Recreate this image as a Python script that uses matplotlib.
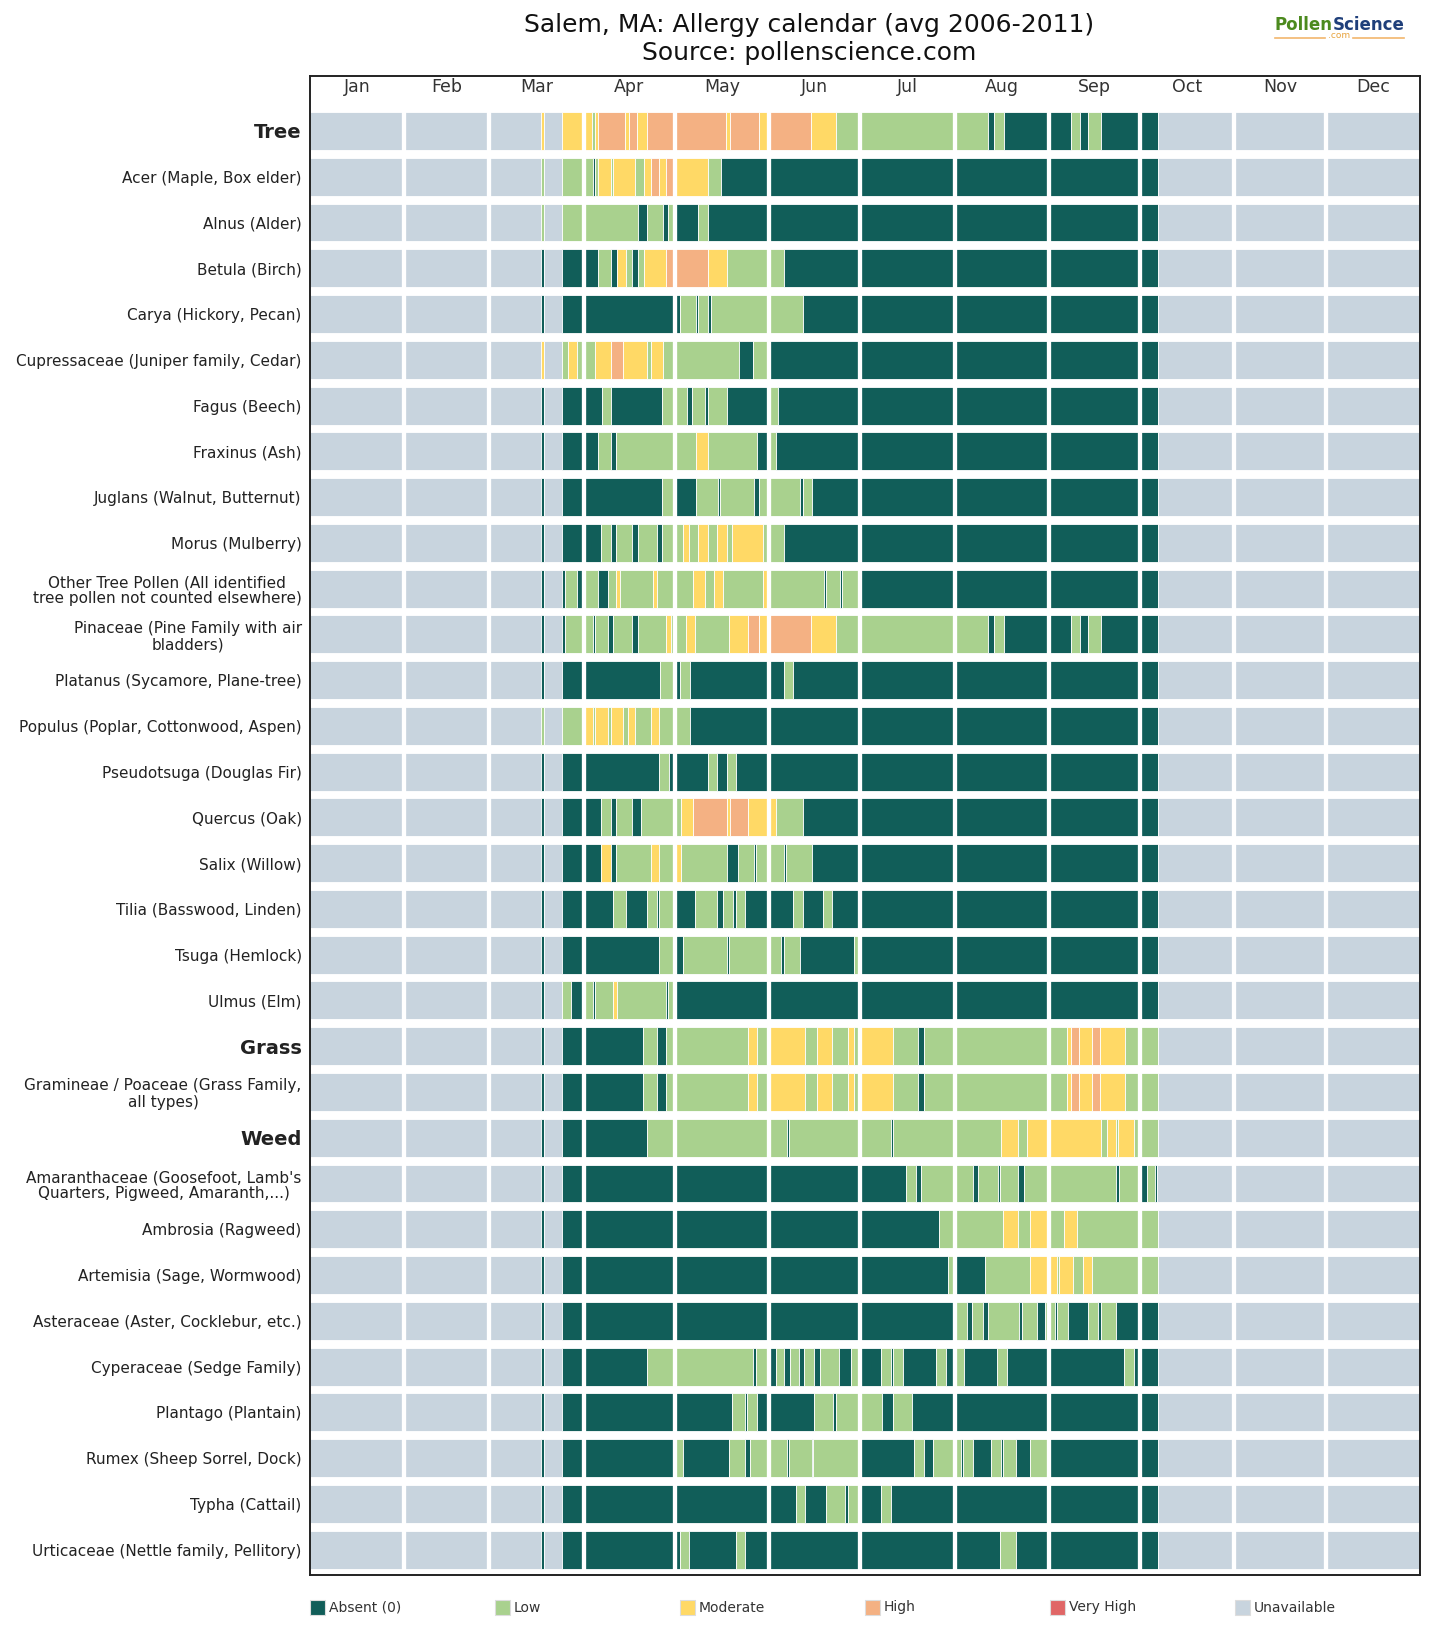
import matplotlib
matplotlib.use("Agg")
import matplotlib.pyplot as plt
from matplotlib.patches import Rectangle
from matplotlib.lines import Line2D
import numpy as np

# ---------------- data ----------------
month_names = ["Jan", "Feb", "Mar", "Apr", "May", "Jun",
               "Jul", "Aug", "Sep", "Oct", "Nov", "Dec"]
month_days = [31, 28, 31, 30, 31, 30, 31, 31, 30, 31, 30, 31]

level_codes = ["A", "L", "M", "H", "V", "U"]
level_names = ["Absent (0)", "Low", "Moderate", "High", "Very High", "Unavailable"]
level_colors = ["#115E59", "#A9D18E", "#FFD966", "#F4B183", "#E06666", "#C8D4DE"]

row_labels = [
    "Tree",
    "Acer (Maple, Box elder)",
    "Alnus (Alder)",
    "Betula (Birch)",
    "Carya (Hickory, Pecan)",
    "Cupressaceae (Juniper family, Cedar)",
    "Fagus (Beech)",
    "Fraxinus (Ash)",
    "Juglans (Walnut, Butternut)",
    "Morus (Mulberry)",
    "Other Tree Pollen (All identified\ntree pollen not counted elsewhere)",
    "Pinaceae (Pine Family with air\nbladders)",
    "Platanus (Sycamore, Plane-tree)",
    "Populus (Poplar, Cottonwood, Aspen)",
    "Pseudotsuga (Douglas Fir)",
    "Quercus (Oak)",
    "Salix (Willow)",
    "Tilia (Basswood, Linden)",
    "Tsuga (Hemlock)",
    "Ulmus (Elm)",
    "Grass",
    "Gramineae / Poaceae (Grass Family,\nall types)",
    "Weed",
    "Amaranthaceae (Goosefoot, Lamb's\nQuarters, Pigweed, Amaranth,...)",
    "Ambrosia (Ragweed)",
    "Artemisia (Sage, Wormwood)",
    "Asteraceae (Aster, Cocklebur, etc.)",
    "Cyperaceae (Sedge Family)",
    "Plantago (Plantain)",
    "Rumex (Sheep Sorrel, Dock)",
    "Typha (Cattail)",
    "Urticaceae (Nettle family, Pellitory)",
]
category_rows = ["Tree", "Grass", "Weed"]

# segment start days (day of year, 0 = Jan 1) and level code of each segment
starts_tree = [0, 75.9, 76.8, 83, 92.84, 93.72, 94.81, 103.58, 104.9, 107.64, 110.93, 136.8, 138.1,
               147.76, 151, 164.7, 172.97, 223.06, 224.9, 228.2, 250.13, 253.2, 255.94, 260.11, 279]
levels_tree = "UMUMLMHMHMHMHMHMLALALALAU"

starts_acer = [0, 75.9, 76.8, 83, 92.95, 93.72, 94.81, 98.87, 99.74, 106.87, 109.83, 112.02,
               114.87, 117.06, 120, 131.0, 135.04, 279]
levels_acer = "ULULALMLMLMHMHMLAU"

starts_alnus = [0, 75.9, 76.8, 83, 107.97, 110.71, 115.97, 117.83, 120, 127.7, 131.0, 279]
levels_alnus = "ULULALALALAU"

starts_betula = [0, 75.9, 76.8, 83, 94.81, 98.87, 100.84, 103.91, 106.0, 107.75, 109.83, 117.06,
                 130.77, 137.01, 155.98, 279]
levels_betula = "UAUALAMLALMHMLAU"

starts_carya = [0, 75.9, 76.8, 83, 121.67, 126.93, 127.7, 130.77, 131.86, 162.0, 279]
levels_carya = "UAUALALALAU"

starts_cupress = [0, 75.9, 76.8, 83, 84.73, 87.8, 93.72, 98.87, 102.81, 110.93, 112.02, 115.97,
                  140.96, 145.78, 151, 279]
levels_cupress = "UMULMLMHMLMLALAU"

starts_fagus = [0, 75.9, 76.8, 83, 95.91, 98.87, 115.86, 123.86, 125.72, 129.89, 131.0, 137.01,
                151, 153.79, 279]
levels_fagus = "UAUALALALALALAU"

starts_fraxinus = [0, 75.9, 76.8, 83, 94.81, 98.87, 100.62, 126.93, 130.77, 146.88, 151, 153.12, 279]
levels_fraxinus = "UAUALALMLALAU"

starts_juglans = [0, 75.9, 76.8, 83, 115.86, 120, 126.93, 134.05, 134.82, 146.0, 147.76, 161.13,
                  162.0, 164.96, 279]
levels_juglans = "UAUALALALALALAU"

starts_morus = [0, 75.9, 76.8, 83, 95.69, 98.87, 100.62, 106.0, 107.75, 114.0, 115.86, 122.76,
                124.74, 127.7, 130.77, 133.94, 137.01, 138.88, 148.85, 155.98, 279]
levels_morus = "UAUALALALALMLMLMLMLAU"

starts_other = [0, 75.9, 76.8, 83, 83.85, 87.91, 90, 94.81, 97.88, 100.62, 101.94, 112.9, 114.0,
                126.05, 129.89, 132.96, 135.92, 148.85, 151, 168.9, 169.6, 174.2, 174.9, 181, 279]
levels_other = "UAUALALALMLMLMLMLMLALALAU"

starts_pinaceae = [0, 75.9, 76.8, 83, 83.85, 92.95, 93.72, 97.88, 99.74, 106.0, 107.75, 116.95,
                   118.7, 123.64, 126.6, 137.9, 143.92, 147.76, 151, 164.74, 172.97, 223.06, 224.9,
                   228.2, 250.13, 253.2, 255.94, 260.11, 279]
levels_pinaceae = "UAUALALALALMLMLMHMHMLALALALAU"

starts_platanus = [0, 75.9, 76.8, 83, 115.09, 120, 121.67, 124.96, 155.98, 158.93, 279]
levels_platanus = "UAUALALALAU"

starts_populus = [0, 75.9, 76.8, 83, 90, 92.95, 93.72, 97.88, 98.87, 102.81, 104.68, 106.87,
                  112.02, 114.87, 124.96, 279]
levels_populus = "ULULMLMLMLMLMLAU"

starts_pseudotsuga = [0, 75.9, 76.8, 83, 114.87, 118.05, 130.77, 133.94, 137.01, 139.97, 279]
levels_pseudotsuga = "UAUALALALAU"

starts_quercus = [0, 75.9, 76.8, 83, 95.69, 98.87, 100.62, 106.0, 108.84, 121.89, 125.83, 137.01,
                  138.1, 143.92, 153.12, 162.0, 279]
levels_quercus = "UAUALALALMHMHMLAU"

starts_salix = [0, 75.9, 76.8, 83, 95.69, 98.87, 100.62, 112.02, 114.87, 120, 121.89, 137.01,
                140.85, 146.0, 146.66, 155.98, 156.64, 164.96, 279]
levels_salix = "UAUAMALMLMLALALALAU"

starts_tilia = [0, 75.9, 76.8, 83, 99.74, 103.91, 110.71, 114.0, 114.76, 120, 126.6, 133.94,
                135.92, 139.0, 139.97, 143.04, 158.93, 162.0, 168.8, 171.76, 279]
levels_tilia = "UAUALALALALALALALALAU"

starts_tsuga = [0, 75.9, 76.8, 83, 114.87, 120, 122.76, 137.01, 137.9, 154.88, 155.76, 161.13,
                178.78, 181, 279]
levels_tsuga = "UAUALALALALALAU"

starts_ulmus = [0, 75.9, 76.8, 83, 85.71, 90, 92.95, 93.72, 99.74, 100.84, 117.06, 117.83, 120, 279]
levels_ulmus = "UAULALALMLALAU"

starts_grass = [0, 75.9, 76.8, 83, 109.61, 114.0, 116.95, 143.92, 146.88, 151, 162.77, 166.83,
                171.76, 176.8, 179.0, 181, 191.82, 200.04, 201.8, 249.04, 250.13, 252.98, 257.04,
                259.89, 268.0, 279]
levels_grass = "UAUALALMLMLMLMLMLALMHMHMLU"

starts_gramineae = [0, 75.9, 76.8, 83, 109.61, 114.0, 116.95, 143.92, 146.88, 151, 162.77, 166.83,
                    171.76, 176.8, 179.0, 181, 191.82, 200.04, 201.8, 249.04, 250.13, 252.98, 257.04,
                    259.89, 268.0, 279]
levels_gramineae = "UAUALALMLMLMLMLMLALMHMHMLU"

starts_weed = [0, 75.9, 76.8, 83, 110.71, 156.75, 157.63, 190.94, 191.82, 227.12, 232.93, 235.88,
               260.11, 262.19, 265.04, 265.6, 271.07, 279]
levels_weed = "UAUALALALMLMLMLMLU"

starts_amaranth = [0, 75.9, 76.8, 83, 195.88, 199.17, 200.92, 218.13, 219.77, 226.13, 226.9,
                   232.93, 234.9, 265.04, 266.03, 273, 275.13, 277.87, 278.6]
levels_amaranth = "UAUALALALALALALALAU"

starts_ambrosia = [0, 75.9, 76.8, 83, 206.95, 228.0, 232.93, 236.76, 243, 248.05, 252.11, 279]
levels_ambrosia = "UAUALMLMLMLU"

starts_artemisia = [0, 75.9, 76.8, 83, 209.9, 212, 221.96, 236.76, 245.75, 246.4, 250.8, 254.08,
                    257.04, 279]
levels_artemisia = "UAUALALMLMLMLU"

starts_asteraceae = [0, 75.9, 76.8, 83, 212, 216.15, 217.8, 221.2, 222.84, 233.25, 234.02, 239.17,
                     241.7, 245.0, 245.75, 249.15, 255.94, 259.23, 260.11, 265.04, 279]
levels_asteraceae = "UAUALALALALALALALALAU"

starts_cyperaceae = [0, 75.9, 76.8, 83, 110.71, 145.78, 146.66, 151, 153.12, 155.98, 157.84,
                     160.91, 162.55, 165.84, 167.7, 173.95, 177.79, 181, 187.77, 191.05, 191.82,
                     194.89, 205.85, 209.03, 212, 215.17, 226.02, 229.09, 267.78, 271.07, 279]
levels_cyperaceae = "UAUALALALALALALALALALALALALALAU"

starts_plantago = [0, 75.9, 76.8, 83, 138.88, 143.04, 143.8, 146.88, 165.84, 172.09, 172.86,
                   187.98, 191.82, 198.07, 279]
levels_plantago = "UAUALALALALALAU"

starts_rumex = [0, 75.9, 76.8, 83, 120, 122.76, 137.9, 143.04, 144.69, 156.96, 157.62, 164.96,
                165.5, 181, 198.73, 202.02, 204.97, 213.96, 214.84, 218.13, 223.83, 227.23, 228.0,
                232.05, 236.76, 243, 279]
levels_rumex = "UAUALALALALALALALALALALALAU"

starts_typha = [0, 75.9, 76.8, 83, 159.81, 162.77, 169.68, 175.93, 176.8, 181, 187.77, 190.94, 279]
levels_typha = "UAUALALALALAU"

starts_urtica = [0, 75.9, 76.8, 83, 121.67, 124.74, 139.97, 143.04, 226.9, 232.05, 279]
levels_urtica = "UAUALALALAU"

row_starts = [starts_tree, starts_acer, starts_alnus, starts_betula, starts_carya, starts_cupress,
              starts_fagus, starts_fraxinus, starts_juglans, starts_morus, starts_other,
              starts_pinaceae, starts_platanus, starts_populus, starts_pseudotsuga, starts_quercus,
              starts_salix, starts_tilia, starts_tsuga, starts_ulmus, starts_grass, starts_gramineae,
              starts_weed, starts_amaranth, starts_ambrosia, starts_artemisia, starts_asteraceae,
              starts_cyperaceae, starts_plantago, starts_rumex, starts_typha, starts_urtica]
row_levels = [levels_tree, levels_acer, levels_alnus, levels_betula, levels_carya, levels_cupress,
              levels_fagus, levels_fraxinus, levels_juglans, levels_morus, levels_other,
              levels_pinaceae, levels_platanus, levels_populus, levels_pseudotsuga, levels_quercus,
              levels_salix, levels_tilia, levels_tsuga, levels_ulmus, levels_grass, levels_gramineae,
              levels_weed, levels_amaranth, levels_ambrosia, levels_artemisia, levels_asteraceae,
              levels_cyperaceae, levels_plantago, levels_rumex, levels_typha, levels_urtica]

# ---------------- figure ----------------
W, H = 1449, 1646
fig = plt.figure(figsize=(W / 100, H / 100), dpi=100)
ax_l, ax_r, ax_t, ax_b = 310, 1420, 75.6, 1575
ax = fig.add_axes([ax_l / W, 1 - ax_b / H, (ax_r - ax_l) / W, (ax_b - ax_t) / H])

color_of = dict(zip(level_codes, level_colors))
year_len = sum(month_days)
bar_h = 0.83

for i, (st, lv) in enumerate(zip(row_starts, row_levels)):
    ends = list(st[1:]) + [year_len]
    widths = np.array(ends) - np.array(st)
    ax.barh([i] * len(st), widths, left=st, height=bar_h,
            color=[color_of[c] for c in lv], edgecolor="white", linewidth=0.6, zorder=1)

n_rows = len(row_labels)
month_edges = np.cumsum([0] + month_days)
ax.vlines(month_edges[1:-1], -0.5, n_rows - 0.5, colors="white", linewidth=3.1, zorder=2)

for m, name in enumerate(month_names):
    ax.text((month_edges[m] + month_edges[m + 1]) / 2, -0.95, name,
            ha="center", va="center", fontsize=12.5, color="#333333")

ax.set_xlim(0, year_len)
ax.set_ylim(n_rows - 0.445, -1.21)
ax.set_xticks([])
ax.set_yticks(range(n_rows))
ax.set_yticklabels(row_labels)
ax.tick_params(axis="y", length=0, pad=6)
for lab in ax.get_yticklabels():
    lab.set_multialignment("center")
    lab.set_linespacing(1.1)
    lab.set_color("#222222")
    if lab.get_text() in category_rows:
        lab.set_fontweight("bold")
        lab.set_fontsize(14)
    else:
        lab.set_fontsize(11)
for sp in ax.spines.values():
    sp.set_color("#222222")
    sp.set_linewidth(1.4)

# title
fig.text(809 / W, 1 - 25 / H, "Salem, MA: Allergy calendar (avg 2006-2011)",
         ha="center", va="center", fontsize=18, color="#111111")
fig.text(809 / W, 1 - 53 / H, "Source: pollenscience.com",
         ha="center", va="center", fontsize=18, color="#111111")

# logo
split_x = 1333
fig.text(split_x / W, 1 - 25 / H, "Pollen", ha="right", va="center", fontsize=12,
         fontweight="bold", color="#4C8A1E")
fig.text(split_x / W, 1 - 25 / H, "Science", ha="left", va="center", fontsize=12,
         fontweight="bold", color="#1F3F7A")
fig.text(1339 / W, 1 - 36 / H, ".com", ha="center", va="center", fontsize=6.5, color="#E8A33D")
fig.add_artist(Line2D([1275 / W, 1325 / W], [1 - 37.5 / H] * 2, color="#F2B66D", linewidth=1.2))
fig.add_artist(Line2D([1353 / W, 1404 / W], [1 - 37.5 / H] * 2, color="#F2B66D", linewidth=1.2))

# legend
col_w = (ax_r - ax_l) / len(level_names)
for k, (name, col) in enumerate(zip(level_names, level_colors)):
    x0 = ax_l + k * col_w
    fig.add_artist(Rectangle((x0 / W, 1 - 1615 / H), 15 / W, 15 / H, facecolor=col,
                             edgecolor="#DDDDDD", linewidth=0.8, transform=fig.transFigure))
    fig.text((x0 + 19) / W, 1 - 1607.5 / H, name, ha="left", va="center",
             fontsize=10, color="#333333")

fig.savefig("out.png", dpi=100, facecolor="white")
